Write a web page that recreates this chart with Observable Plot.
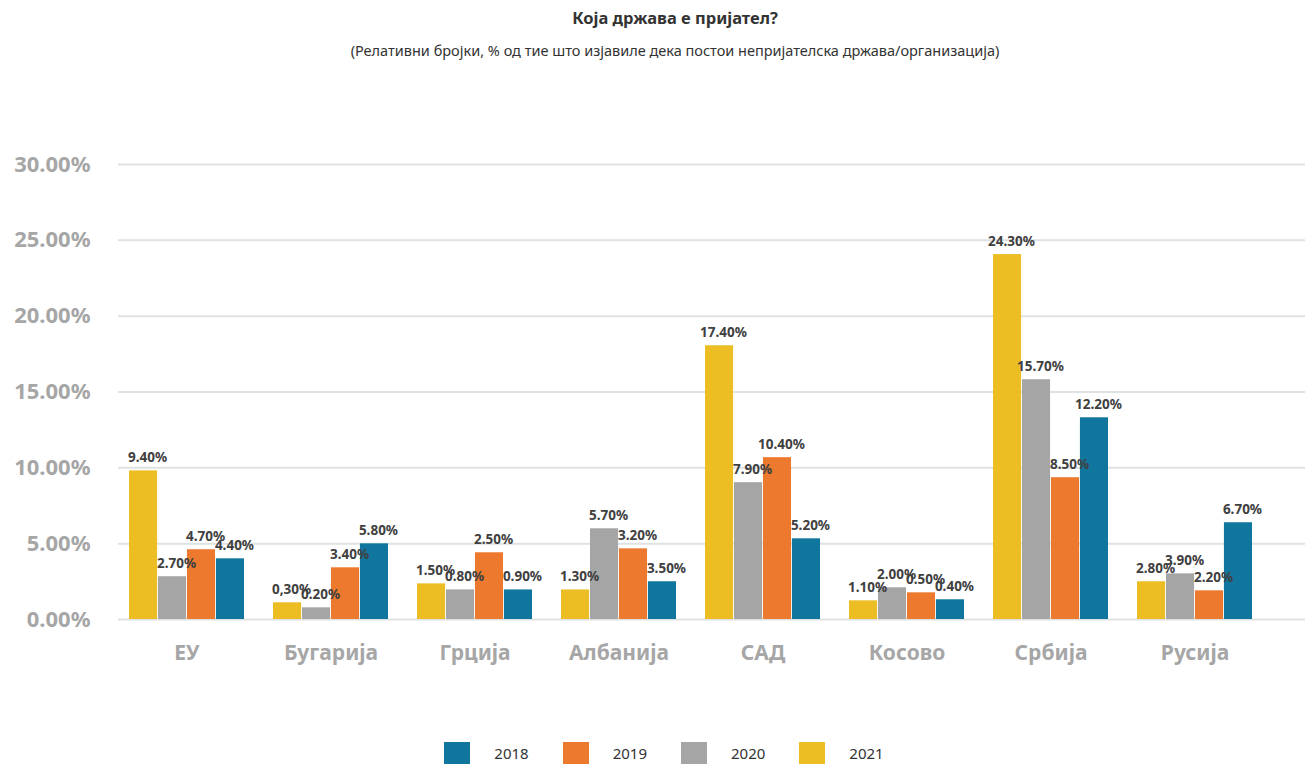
<!DOCTYPE html>
<html>
<head>
<meta charset="utf-8">
<script src="https://cdn.jsdelivr.net/npm/d3@7"></script>
<script src="https://cdn.jsdelivr.net/npm/@observablehq/plot@0.6"></script>
<style>
  html, body { margin: 0; padding: 0; background: #fff; }
  body { width: 1306px; height: 764px; overflow: hidden; font-family: "Noto Sans", sans-serif; }
  #head { height: 70px; position: relative; }
  #title { position: absolute; top: 6px; left: 22px; width: 1306px; text-align: center; font-weight: bold; font-size: 16.5px; color: #333; }
  #subtitle { position: absolute; top: 40px; left: 22px; width: 1306px; text-align: center; font-size: 14.5px; color: #333; }
  #legend { height: 44px; position: relative; display: flex; justify-content: center; align-items: flex-end; padding-left: 22px; box-sizing: border-box; }
  .item { display: flex; align-items: center; margin: 0 17px; height: 22px; }
  .sw { width: 26px; height: 22px; display: inline-block; }
  .lt { margin-left: 24px; font-size: 15px; color: #333; }
  svg [aria-label="y-axis tick label"] text, svg [aria-label="x-axis tick label"] text { font-weight: bold; }
</style>
</head>
<body>
<div id="head">
  <div id="title">Која држава е пријател?</div>
  <div id="subtitle">(Релативни бројки, % од тие што изјавиле дека постои непријателска држава/организација)</div>
</div>
<div id="chart"></div>
<div id="legend"></div>
<script>
// Categories
const countries = ["ЕУ", "Бугарија", "Грција", "Албанија", "САД", "Косово", "Србија", "Русија"];
// Series order left to right within each group
const years = ["2021", "2020", "2019", "2018"];
const colors = ["#ecbe24", "#a5a5a5", "#ec792e", "#11769e"];
// Bar heights as drawn (percent)
const v2021 = [9.8, 1.1, 2.35, 1.95, 18.05, 1.23, 24.06, 2.49];
const v2020 = [2.82, 0.77, 1.95, 5.98, 9.02, 2.09, 15.81, 3.01];
const v2019 = [4.6, 3.41, 4.4, 4.66, 10.67, 1.76, 9.35, 1.89];
const v2018 = [4.0, 4.99, 1.95, 2.49, 5.32, 1.3, 13.3, 6.38];
// Value labels as printed
const l2021 = ["9.40%", "0,30%", "1.50%", "1.30%", "17.40%", "1.10%", "24.30%", "2.80%"];
const l2020 = ["2.70%", "0.20%", "0.80%", "5.70%", "7.90%", "2.00%", "15.70%", "3.90%"];
const l2019 = ["4.70%", "3.40%", "2.50%", "3.20%", "10.40%", "0.50%", "8.50%", "2.20%"];
const l2018 = ["4.40%", "5.80%", "0.90%", "3.50%", "5.20%", "0.40%", "12.20%", "6.70%"];
// Y ticks
const yTicks = [0, 5, 10, 15, 20, 25, 30];

const values = [v2021, v2020, v2019, v2018];
const labels = [l2021, l2020, l2019, l2018];
const series = years.map((y, i) => countries.map((c, j) => ({country: c, year: y, value: values[i][j], label: labels[i][j]})));

const W = 1306, H = 650, ML = 118, MR = 1, MT = 94, MB = 101;
const padIn = 0.2, padOut = 0.197, align = 0.175;
const step = (W - ML - MR) / (countries.length - padIn + 2 * padOut);
const bw = step * (1 - padIn);
const q = bw / years.length;

const marks = [
  Plot.gridY(yTicks, {stroke: "#dfe2e2", strokeOpacity: 1, strokeWidth: 2}),
  Plot.axisY(yTicks, {tickSize: 0, tickPadding: 28, tickFormat: d => d.toFixed(2) + "%", fontSize: 22, color: "#a6a6a6", label: null}),
  Plot.axisX({tickSize: 0, tickPadding: 26, fontSize: 21, color: "#a6a6a6", label: null})
];
series.forEach((s, i) => {
  marks.push(Plot.barY(s, {x: "country", y: "value", fill: colors[i], insetLeft: i * q, insetRight: (years.length - 1 - i) * q}));
});
series.forEach((s, i) => {
  marks.push(Plot.text(s, {x: "country", y: "value", text: "label", dx: (i - (years.length - 1) / 2) * q + 4, dy: -13, fill: "#404040", fontSize: 13.5, fontWeight: "bold"}));
});

const chart = Plot.plot({
  width: W, height: H,
  marginLeft: ML, marginRight: MR, marginTop: MT, marginBottom: MB,
  style: {fontFamily: "'Noto Sans', sans-serif", background: "transparent"},
  x: {domain: countries, paddingInner: padIn, paddingOuter: padOut, align: align, label: null},
  y: {domain: [0, 30], label: null},
  marks
});
document.getElementById("chart").appendChild(chart);

const legendOrder = ["2018", "2019", "2020", "2021"];
const leg = d3.select("#legend");
legendOrder.forEach(y => {
  const it = leg.append("div").attr("class", "item");
  it.append("span").attr("class", "sw").style("background", colors[years.indexOf(y)]);
  it.append("span").attr("class", "lt").text(y);
});
</script>
</body>
</html>
